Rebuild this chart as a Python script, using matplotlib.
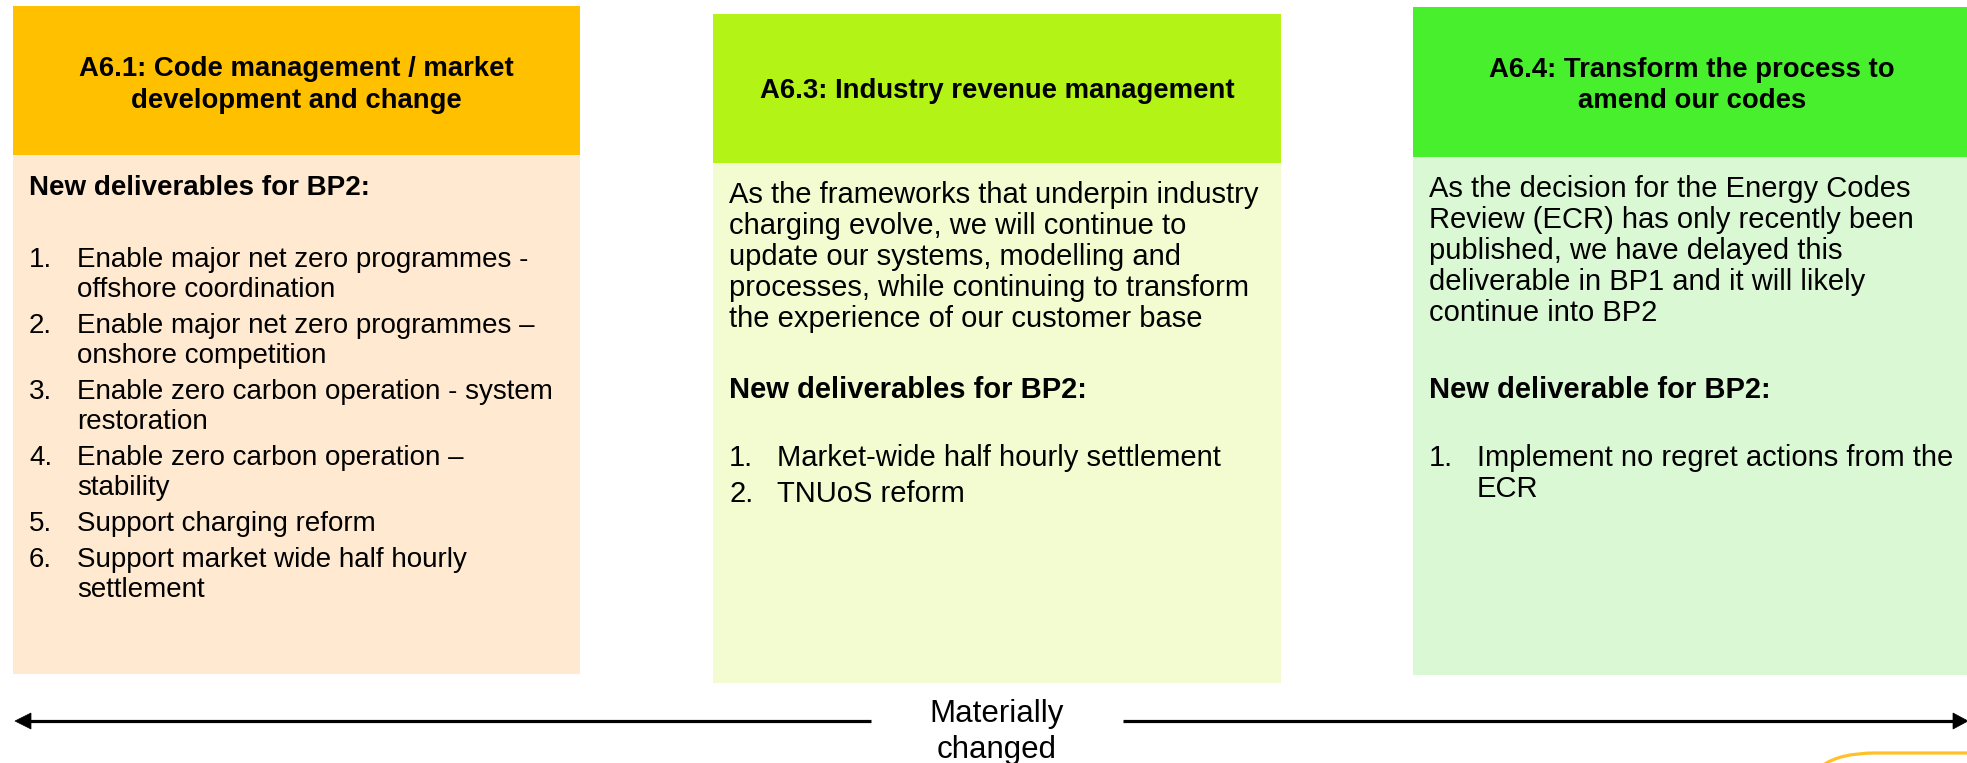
# Three activity boxes over a "Materially changed" scale arrow.

import matplotlib
matplotlib.use("Agg")
import matplotlib.pyplot as plt
from matplotlib.patches import Rectangle, FancyBboxPatch, Polygon

plt.rcParams['font.family'] = ['Liberation Sans', 'DejaVu Sans']

# --- content -------------------------------------------------------------
titles = [
    ["A6.1: Code management / market", "development and change"],
    ["A6.3: Industry revenue management"],
    ["A6.4: Transform the process to", "amend our codes"],
]
intros = [
    [],
    ["As the frameworks that underpin industry",
     "charging evolve, we will continue to",
     "update our systems, modelling and",
     "processes, while continuing to transform",
     "the experience of our customer base"],
    ["As the decision for the Energy Codes",
     "Review (ECR) has only recently been",
     "published, we have delayed this",
     "deliverable in BP1 and it will likely",
     "continue into BP2"],
]
subheads = ["New deliverables for BP2:", "New deliverables for BP2:",
            "New deliverable for BP2:"]
items = [
    [["Enable major net zero programmes -", "offshore coordination"],
     ["Enable major net zero programmes \u2013", "onshore competition"],
     ["Enable zero carbon operation - system", "restoration"],
     ["Enable zero carbon operation \u2013", "stability"],
     ["Support charging reform"],
     ["Support market wide half hourly", "settlement"]],
    [["Market-wide half hourly settlement"],
     ["TNUoS reform"]],
    [["Implement no regret actions from the", "ECR"]],
]
scale_label = "Materially\nchanged"

# --- layout (pixels, y down) ----------------------------------------------
W, H = 1967, 763
boxes = [(13, 6, 580, 155, 674), (713, 14, 1281, 163, 683), (1413, 7, 1990, 157, 675)]
head_cols = ["#FFC000", "#B3F315", "#47EF2C"]
body_cols = ["#FFE9D0", "#F3FBD0", "#DBF8D5"]
title_x = [296, 997, 1692]
title_base = [[76, 108], [98], [77, 108]]
intro_base = [0, 203, 197]
subhead_base = [195, 398, 398]
list_base = [267, 466, 466]
body_fs = [20, 21, 21]
line_steps = [30, 31, 31]
item_gap = 36
pad = 16
indent = 48
head_fs = 19.8

fig = plt.figure(figsize=(W / 100, H / 100), dpi=100)
ax = fig.add_axes([0, 0, 1, 1])
ax.set_xlim(0, W)
ax.set_ylim(H, 0)
ax.axis('off')

for i, (x0, y0, x1, yh, y1) in enumerate(boxes):
    ax.add_patch(Rectangle((x0, y0), x1 - x0, yh - y0, fc=head_cols[i], ec='none'))
    ax.add_patch(Rectangle((x0, yh), x1 - x0, y1 - yh, fc=body_cols[i], ec='none'))
    for line, yb in zip(titles[i], title_base[i]):
        ax.text(title_x[i], yb, line, ha='center', va='baseline', fontsize=head_fs,
                fontweight='bold')
    tx = x0 + pad
    fs = body_fs[i]
    step = line_steps[i]
    y = intro_base[i]
    for line in intros[i]:
        ax.text(tx, y, line, ha='left', va='baseline', fontsize=fs)
        y += step
    ax.text(tx, subhead_base[i], subheads[i], ha='left', va='baseline',
            fontsize=fs, fontweight='bold')
    y = list_base[i]
    for n, item in enumerate(items[i], start=1):
        ax.text(tx, y, f"{n}.", ha='left', va='baseline', fontsize=fs)
        for k, line in enumerate(item):
            ax.text(tx + indent, y, line, ha='left', va='baseline', fontsize=fs)
            if k < len(item) - 1:
                y += step
        y += item_gap

# scale arrow
ay = 721
ax.plot([28, 871], [ay, ay], color='black', lw=2.3, solid_capstyle='butt')
ax.plot([1123, W - 12], [ay, ay], color='black', lw=2.3, solid_capstyle='butt')
ax.add_patch(Polygon([[15, ay], [31, ay - 8], [31, ay + 8]], closed=True,
                     fc='black', ec='black', lw=0.5))
ax.add_patch(Polygon([[W + 1, ay], [W - 14, ay - 8], [W - 14, ay + 8]], closed=True,
                     fc='black', ec='black', lw=0.5))
for line, yb in zip(scale_label.split("\n"), [722, 758]):
    ax.text(997, yb, line, ha='center', va='baseline', fontsize=22.5)

# partial rounded frame at the bottom right corner
ax.add_patch(FancyBboxPatch((1805, 753), 300, 120,
                            boxstyle='round,pad=0,rounding_size=70',
                            fc='none', ec='#FFC125', lw=2.3))

fig.savefig("out.png", dpi=100)
